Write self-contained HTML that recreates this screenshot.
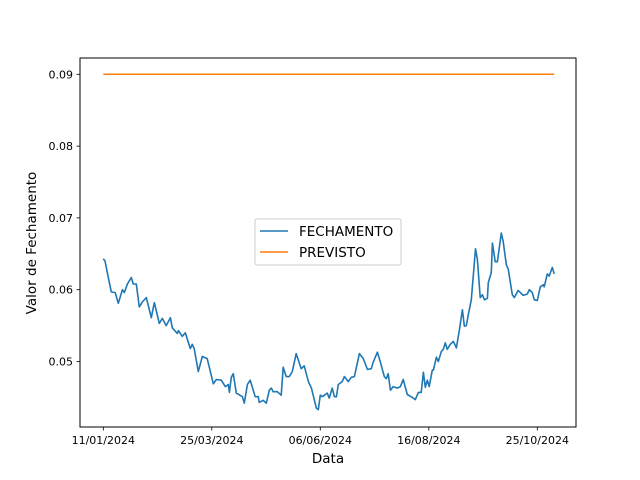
<!DOCTYPE html>
<html><head><meta charset="utf-8"><style>
html,body{margin:0;padding:0;background:#fff;}
svg{display:block;font-family:"DejaVu Sans","Liberation Sans",sans-serif;}
</style></head><body>
<svg id="chart" width="640" height="480" viewBox="0 0 640 480" xmlns="http://www.w3.org/2000/svg"></svg>
<script>
const xTickLabels = ["11/01/2024","25/03/2024","06/06/2024","16/08/2024","25/10/2024"];
const xTickIdx = [0,50,100,150,200];
const yTicks = [0.05,0.06,0.07,0.08,0.09];
const idx = [0,0.8,2.3,3.7,5.5,6.9,8.8,9.7,11.1,12.9,13.8,15.2,16.6,18.0,19.8,22.1,23.5,25.8,27.2,29.0,30.9,31.8,34.1,34.6,36.4,37.8,40.1,41.0,41.9,43.8,45.6,47.9,50.7,52.1,54.4,56.2,57.6,58.1,59.0,59.9,61.3,64.1,65.0,66.4,67.7,70.0,71.4,71.9,73.7,75.1,76.5,77.4,78.3,80.2,82.0,82.9,84.3,85.7,87.1,88.9,91.2,92.6,94.5,95.9,98.2,99.1,100.0,100.9,103.2,104.1,105.5,106.5,107.4,108.3,110.1,111.1,112.9,114.3,115.7,118.0,119.8,121.7,123.5,124.4,126.3,127.6,129.5,130.4,131.3,132.3,133.6,135.5,136.9,138.2,140.1,142.4,143.8,145.2,146.5,147.5,148.4,149.3,150.2,151.6,152.1,153.5,154.4,155.8,156.7,157.6,158.5,159.9,161.3,162.7,164.1,165.5,166.4,167.3,168.2,169.6,171.5,172.4,173.7,174.7,175.6,177.0,177.4,178.8,179.3,180.6,181.6,183.4,184.3,185.7,186.6,188.5,189.4,191.2,193.5,195.4,196.3,197.7,198.6,200.0,201.4,202.8,203.2,204.6,205.5,206.9,207.8];
const fechamento = [0.0643,0.0640,0.0617,0.0597,0.0596,0.0581,0.0600,0.0596,0.0608,0.0617,0.0608,0.0608,0.0576,0.0583,0.0589,0.0561,0.0582,0.0553,0.0560,0.0550,0.0561,0.0547,0.0539,0.0543,0.0535,0.0540,0.0518,0.0524,0.0518,0.0486,0.0507,0.0504,0.0469,0.0475,0.0474,0.0465,0.0468,0.0457,0.0478,0.0483,0.0456,0.0451,0.0442,0.0468,0.0474,0.0451,0.0451,0.0443,0.0446,0.0442,0.0460,0.0463,0.0458,0.0458,0.0453,0.0492,0.0479,0.0479,0.0486,0.0511,0.0490,0.0494,0.0472,0.0463,0.0435,0.0433,0.0453,0.0451,0.0456,0.0449,0.0463,0.0451,0.0451,0.0468,0.0472,0.0479,0.0472,0.0478,0.0479,0.0511,0.0504,0.0489,0.0490,0.0499,0.0513,0.0500,0.0479,0.0476,0.0483,0.0460,0.0465,0.0463,0.0465,0.0475,0.0454,0.0450,0.0447,0.0457,0.0457,0.0485,0.0464,0.0474,0.0465,0.0488,0.0488,0.0506,0.0500,0.0514,0.0517,0.0526,0.0517,0.0524,0.0528,0.0519,0.0544,0.0572,0.0549,0.0550,0.0565,0.0586,0.0657,0.0642,0.0589,0.0593,0.0586,0.0588,0.0610,0.0624,0.0665,0.0639,0.0639,0.0679,0.0667,0.0635,0.0629,0.0593,0.0589,0.0599,0.0592,0.0594,0.0600,0.0596,0.0586,0.0585,0.0604,0.0607,0.0604,0.0622,0.0619,0.0631,0.0622];
const previsto = 0.09;
const n = Math.min(idx.length, fechamento.length);

const svg = document.getElementById('chart');
const NS = "http://www.w3.org/2000/svg";
const L=80, R=576, T=58, B=427;
const xs = i => 103.3 + i*2.17;
const ys = v => 361.5 - (v-0.05)*7180;
function mk(tag, attrs){const e=document.createElementNS(NS,tag);for(const k in attrs)e.setAttribute(k,attrs[k]);svg.appendChild(e);return e;}

const frame = mk('rect',{x:L,y:T,width:R-L,height:B-T,fill:'none',stroke:'#000','stroke-width':1});



const lastIdx = idx[n-1];
const pl = mk('line',{x1:xs(0),x2:xs(lastIdx),y1:ys(previsto),y2:ys(previsto),stroke:'#ff7f0e','stroke-width':1.5});



let d='';
for(let k=0;k<n;k++){d+=(k?'L':'M')+xs(idx[k]).toFixed(1)+','+ys(fechamento[k]).toFixed(1);}
const fl = mk('path',{d:d,fill:'none',stroke:'#1f77b4','stroke-width':1.6,'stroke-linejoin':'round'});



xTickIdx.forEach((ti,k)=>{
  const x=xs(ti);
  const t=mk('line',{x1:x,x2:x,y1:B,y2:B+3.5,stroke:'#000','stroke-width':0.8});
  
  
  const lb=mk('text',{x:x,y:B+17,'font-size':11,'text-anchor':'middle',fill:'#000'});
  lb.textContent=xTickLabels[k];
  
  
});
yTicks.forEach(v=>{
  const y=ys(v);
  const t=mk('line',{x1:L-3.5,x2:L,y1:y,y2:y,stroke:'#000','stroke-width':0.8});
  
  
  const lb=mk('text',{x:L-7,y:y+4,'font-size':11,'text-anchor':'end',fill:'#000'});
  lb.textContent=v.toFixed(2);
  
  
});
const xt=mk('text',{x:(L+R)/2,y:463,'font-size':13.5,'text-anchor':'middle'});
xt.textContent='Data';


const yt=mk('text',{x:0,y:0,'font-size':13.5,'text-anchor':'middle',transform:'translate(36,243) rotate(-90)'});
yt.textContent='Valor de Fechamento';



const lg=mk('rect',{x:255,y:219,width:146,height:46,rx:2,fill:'#fff','fill-opacity':0.8,stroke:'#ccc','stroke-width':1});


const entries=[['FECHAMENTO','#1f77b4',231],['PREVISTO','#ff7f0e',252]];
entries.forEach(e=>{
  const ln=mk('line',{x1:260,x2:288,y1:e[2],y2:e[2],stroke:e[1],'stroke-width':1.5});
  
  
  const tx=mk('text',{x:299,y:e[2]+5,'font-size':13.5,fill:'#000'});
  tx.textContent=e[0];
  
  
});
</script>
</body></html>
